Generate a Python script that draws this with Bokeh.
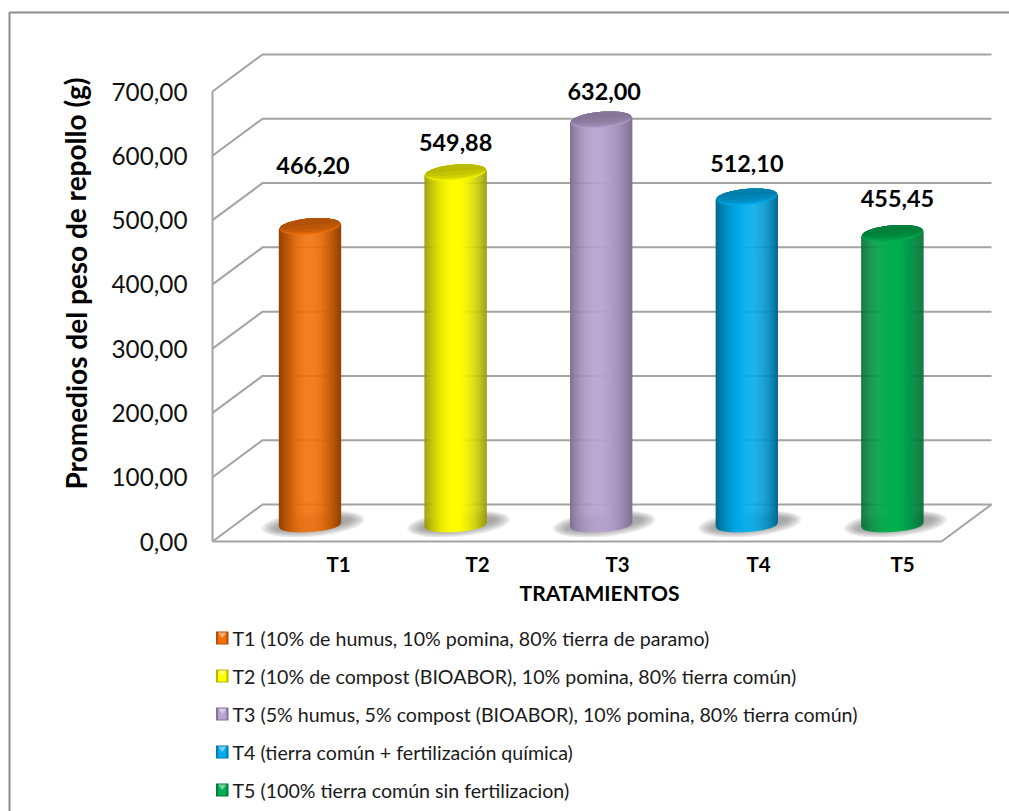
import numpy as np
from bokeh.core.properties import value
from bokeh.embed import file_html
from bokeh.models import FixedTicker, LinearAxis, Range1d
from bokeh.plotting import figure
from bokeh.resources import INLINE

# Chart values
treatments = ["T1", "T2", "T3", "T4", "T5"]
weights = [466.20, 549.88, 632.00, 512.10, 455.45]
weight_labels = ["466,20", "549,88", "632,00", "512,10", "455,45"]
bar_colors = ["#F2700A", "#FFFF00", "#B7A2D0", "#00AEEF", "#00B050"]
y_ticks = [0, 100, 200, 300, 400, 500, 600, 700]
y_tick_labels = ["0,00", "100,00", "200,00", "300,00", "400,00", "500,00", "600,00", "700,00"]
legend_entries = [
    "T1 (10% de humus, 10% pomina, 80% tierra de paramo)",
    "T2 (10% de compost (BIOABOR), 10% pomina, 80% tierra común)",
    "T3 (5% humus, 5% compost (BIOABOR), 10% pomina, 80% tierra común)",
    "T4 (tierra común + fertilización química)",
    "T5 (100% tierra común sin fertilizacion)",
]
y_title = "Promedios del peso de repollo (g)"
x_title = "TRATAMIENTOS"

# Page geometry: the plot frame fills the page, and these factors tie
# treatment number and gram value to page pixels.
W, H = 1009, 811
PX_PER_CAT = 145.6
PX_PER_G = 450 / 700
CAT1_PX = 309.5
BASE_PX = 541


def X(px):
    return 1 + (np.asarray(px, dtype=float) - CAT1_PX) / PX_PER_CAT


def Y(py):
    return (BASE_PX - np.asarray(py, dtype=float)) / PX_PER_G


def DX(px):
    return np.asarray(px, dtype=float) / PX_PER_CAT


def DY(px):
    return np.asarray(px, dtype=float) / PX_PER_G


def darker(hex_color, f):
    rgb = [int(hex_color[i:i + 2], 16) for i in (1, 3, 5)]
    return "#%02x%02x%02x" % tuple(int(min(255, max(0, c * f))) for c in rgb)


def lighter(hex_color, f):
    rgb = [int(hex_color[i:i + 2], 16) for i in (1, 3, 5)]
    return "#%02x%02x%02x" % tuple(int(c + (255 - c) * f) for c in rgb)


p = figure(
    width=W, height=H, output_backend="svg", toolbar_location=None,
    x_range=Range1d(float(X(0)), float(X(W))), y_range=Range1d(float(Y(H)), float(Y(0))),
    min_border=0, x_axis_type=None, y_axis_type=None,
)
p.grid.visible = False
p.outline_line_color = None
p.background_fill_color = "white"

# Chart area border: top and left edges only reach the page
p.line(X([9, 9, W]), Y([H, 12, 12]), line_color="#8c8c8c", line_width=2)

# Walls and floor of the 3D box
WALL = "#a3a3a3"
depth_x, depth_y = DX(50), DY(37)
left, right = float(X(212)), float(X(941))
for v in y_ticks:
    p.line([left, left + depth_x, right + depth_x],
           [v, v + depth_y, v + depth_y], line_color=WALL, line_width=2)
p.line([left, right, right + depth_x], [0, 0, depth_y], line_color=WALL, line_width=2)

axis = LinearAxis(
    ticker=FixedTicker(ticks=y_ticks),
    major_label_overrides=dict(zip(y_ticks, y_tick_labels)),
    fixed_location=left,
    bounds=(0, 700),
    axis_line_color=WALL, axis_line_width=2,
    major_tick_line_color=None, minor_tick_line_color=None,
    major_label_text_font="Lato", major_label_text_font_size="24.3px",
    major_label_text_color="#111111", major_label_standoff=19,
)
p.add_layout(axis, "left")

# Cylinders, each built from narrow vertical strips for the rounded shading
HALF_W = 30.5
STRIPS = 61
u = np.linspace(-1, 1, STRIPS)
strip_w = 2 * HALF_W / STRIPS * 1.35
TOP_LIFT_G = 24
BASE_LIFT_PX = 16
arc = np.linspace(-1, 1, 60)

for i, (val, col) in enumerate(zip(weights, bar_colors)):
    cx_px = CAT1_PX + i * PX_PER_CAT
    top_c = val + TOP_LIFT_G
    base_c = DY(BASE_LIFT_PX)

    # Soft ground shadow
    for k in range(12):
        frac = 1 - k / 12
        t = np.linspace(0, 2 * np.pi, 50)
        sx = cx_px + 3 + (36 + 16 * frac) * np.cos(t)
        sy = 523.5 + (5 + 8 * frac) * np.sin(t) - 4.5 * np.cos(t)
        p.patch(X(sx), Y(sy), fill_color="#6e6e6e", fill_alpha=0.07, line_color=None)

    edge = 0.60 if i != 2 else 0.70
    shade = edge + (1 - edge) * (1 - np.abs(u) ** 2.0)
    colors = [darker(col, s) for s in shade]
    xs = cx_px + u * HALF_W
    bottoms = base_c + DY(2 * u - 6.5 * np.sqrt(1 - u ** 2))
    tops = top_c + DY(2.5 * u)
    p.quad(left=X(xs - strip_w / 2), right=X(xs + strip_w / 2),
           bottom=bottoms, top=tops, fill_color=colors, fill_alpha=1.0, line_color=None)

    # Top cap: dark face with a lighter rim along its lower edge
    for f, shrink in [(0.98, 1.0), (0.90, 0.86), (0.82, 0.66), (0.77, 0.3), (0.73, -0.2)]:
        cap_x = cx_px + arc * HALF_W
        upper = 2.5 * arc + 8 * np.sqrt(1 - arc ** 2)
        lower = 2.5 * arc - 8 * shrink * np.sqrt(1 - arc ** 2)
        p.patch(X(np.r_[cap_x, cap_x[::-1]]),
                top_c + DY(np.r_[upper, lower[::-1]]),
                fill_color=darker(col, f), fill_alpha=1.0, line_color=None)

# Values above the bars; each label carries its own nudge in pixels
label_dx = [3, 0, 3, 0, 5]
label_lift = [61, 30, 28, 33, 35]
p.text(
    x=[float(X(CAT1_PX + i * PX_PER_CAT + label_dx[i])) for i in range(5)],
    y=[weights[i] + TOP_LIFT_G + float(DY(label_lift[i])) for i in range(5)],
    text=weight_labels, text_font=value("Lato"), text_font_size="23.4px",
    text_font_style="bold", text_color="#000000",
    text_align="center", text_baseline="middle",
)

# Category names and axis titles
cat_px = [338, 477, 617, 758, 902]
p.text(x=X(cat_px), y=[float(Y(563))] * 5, text=treatments,
       text_font=value("Lato"), text_font_size="20.5px", text_font_style="bold",
       text_color="#000000", text_align="center", text_baseline="middle")
p.text(x=[float(X(599))], y=[float(Y(592))], text=[x_title],
       text_font=value("Lato"), text_font_size="21px", text_font_style="bold",
       text_color="#000000", text_align="center", text_baseline="middle")
p.text(x=[float(X(75))], y=[float(Y(283))], text=[y_title], angle=[np.pi / 2],
       text_font=value("Lato"), text_font_size="28px", text_font_style="bold",
       text_color="#000000", text_align="center", text_baseline="middle")

# Legend: bevelled swatches with their descriptions
LEG_Y = [638, 676, 714, 752, 790]
for col, ly, entry in zip(bar_colors, LEG_Y, legend_entries):
    x0, x1, y0, y1 = 215.5, 228, ly - 7, ly + 6
    xm, ym = (x0 + x1) / 2, (y0 + y1) / 2
    p.patch(X([x0, x1, x1, x0]), Y([y0, y0, y1, y1]), fill_color=darker(col, 0.72), line_color=None)
    p.patch(X([x0 + 2, x1 - 2, x1 - 2, x0 + 2]), Y([y0 + 2, y0 + 2, y1 - 1, y1 - 1]),
            fill_color=col, line_color=None)
    p.patch(X([x0 + 2, x1 - 2, xm]), Y([y0 + 1, y0 + 1, ym]),
            fill_color=lighter(col, 0.45), line_color=None)
    p.text(x=[float(X(232))], y=[float(Y(ly))], text=[entry],
           text_font=value("Lato"), text_font_size="19.6px", text_color="#1a1a1a",
           text_align="left", text_baseline="middle")

open("out.html", "w").write(file_html(p, INLINE))
